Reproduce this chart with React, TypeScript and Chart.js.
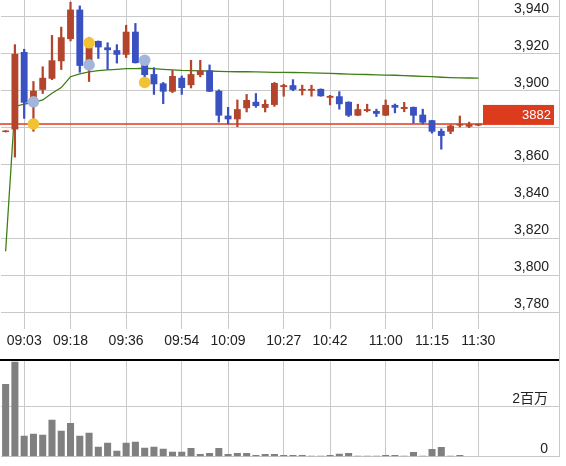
import React, { useEffect, useRef } from 'react';
import { Chart, registerables } from 'chart.js';

Chart.register(...registerables);

const TIMES = [
  '08:57', '09:00', '09:03', '09:06', '09:09', '09:12', '09:15', '09:18', '09:21', '09:24',
  '09:27', '09:30', '09:33', '09:36', '09:39', '09:42', '09:45', '09:48', '09:51', '09:54',
  '09:57', '10:00', '10:03', '10:06', '10:09', '10:12', '10:15', '10:18', '10:21', '10:24',
  '10:27', '10:30', '10:33', '10:36', '10:39', '10:42', '10:45', '10:48', '10:51', '10:54',
  '10:57', '11:00', '11:03', '11:06', '11:09', '11:12', '11:15', '11:18', '11:21', '11:24',
  '11:27', '11:30',
];

const X_TICK_LABELS = ['09:03', '09:18', '09:36', '09:54', '10:09', '10:27', '10:42', '11:00', '11:15', '11:30'];

const OPEN = [
  3877.6, 3879, 3921, 3896, 3900.5, 3906.5, 3916, 3928, 3944, 3914,
  3927, 3923.5, 3922, 3919.5, 3932, 3915, 3909, 3904, 3899.5, 3907,
  3903, 3908.5, 3911, 3900, 3886.5, 3884.5, 3890.5, 3894, 3890.7, 3892.3,
  3902, 3903, 3900, 3900, 3901, 3896.2, 3897, 3894, 3886.5, 3889,
  3889, 3886.5, 3892.3, 3890.1, 3891.2, 3887, 3884, 3878.2, 3877.8, 3881.1,
  3880.5, 3881.1,
];
const CLOSE = [
  3878.4, 3920, 3893.5, 3900, 3907, 3916.5, 3929, 3944, 3913.5, 3924,
  3923.5, 3922, 3919.5, 3932, 3915, 3908.5, 3903.5, 3899.5, 3908, 3901.5,
  3909, 3911, 3899.5, 3886.5, 3884.5, 3890, 3895, 3891.7, 3892.8, 3904.2,
  3903, 3900.5, 3901, 3901, 3897, 3897.2, 3892.7, 3886.5, 3890, 3890,
  3887.5, 3892.3, 3890.8, 3891.2, 3886.5, 3882.7, 3877.8, 3875.5, 3881.1, 3881.8,
  3881.8, 3882,
];
const HIGH = [
  3878.4, 3925, 3922.5, 3905, 3913, 3930, 3934.5, 3948, 3946, 3929,
  3927, 3926, 3925, 3935.5, 3936.5, 3917, 3912.5, 3904.5, 3911, 3908,
  3916.5, 3916.5, 3914, 3900.5, 3891, 3895, 3898, 3898.5, 3895, 3904.5,
  3903.5, 3906, 3903, 3903, 3901, 3897.5, 3899.5, 3894, 3892.7, 3892.7,
  3890, 3895, 3892.8, 3893.7, 3891.2, 3890, 3884, 3879.3, 3881.5, 3886.3,
  3883, 3882,
];
const LOW = [
  3877.6, 3864, 3885, 3878, 3898.5, 3906, 3911.5, 3927, 3910, 3905,
  3917.5, 3911.5, 3915, 3918, 3915, 3907, 3898, 3893, 3899, 3898,
  3901.5, 3907.5, 3899.5, 3883, 3882, 3880.5, 3888.5, 3891, 3888.5, 3891.5,
  3897, 3900, 3897.7, 3897, 3897, 3892.3, 3890, 3886, 3886.5, 3888.5,
  3886, 3886.5, 3888, 3888.6, 3882.4, 3882, 3877, 3868.3, 3876.7, 3880.3,
  3880, 3881,
];
const AVG_LINE = [
  3813, 3891.5, 3892.7, 3893.5, 3895, 3898.6, 3901.7, 3907.6, 3909.1, 3910.2,
  3910.9, 3911.3, 3911.6, 3912, 3912, 3912.2, 3912, 3911.6, 3911.3, 3911,
  3910.9, 3910.8, 3910.7, 3910.5, 3910.4, 3910.3, 3910.3, 3910.2, 3910.1, 3910,
  3910, 3909.9, 3909.8, 3909.7, 3909.5, 3909.4, 3909.2, 3909, 3908.9, 3908.8,
  3908.6, 3908.5, 3908.4, 3908.2, 3908, 3907.8, 3907.6, 3907.3, 3907.1, 3907,
  3906.9, 3906.8,
];
const VOLUME = [
  2910000, 3800000, 840000, 920000, 880000, 1480000, 1040000, 1350000, 840000, 960000,
  400000, 560000, 240000, 560000, 600000, 360000, 400000, 320000, 200000, 200000,
  350000, 110000, 150000, 350000, 110000, 150000, 150000, 70000, 110000, 110000,
  70000, 70000, 70000, 40000, 40000, 70000, 120000, 150000, 40000, 40000,
  40000, 70000, 70000, 40000, 190000, 40000, 310000, 390000, 40000, 70000,
  0, 0,
];

const YELLOW_TIMES = ['09:06', '09:24', '09:42'];
const YELLOW_VALUES = [3882, 3926, 3904.5];
const BLUE_TIMES = ['09:06', '09:24', '09:42'];
const BLUE_VALUES = [3894, 3914, 3916.5];

const PRICE_TICKS = [3780, 3800, 3820, 3840, 3860, 3880, 3900, 3920, 3940];
const VOLUME_TICKS = [0, 2000000];
const VOLUME_TICK_LABELS = ['0', '2百万'];
const LAST_PRICE = 3882;

const UP = '#b4452d';
const DOWN = '#3a51c2';
const GRID = '#c9c9c9';
const FONT = "'Liberation Sans', Arial, 'Noto Sans CJK JP', sans-serif";

const xTickIdx = X_TICK_LABELS.map((t) => TIMES.indexOf(t));

function markerData(times: string[], values: number[]) {
  return TIMES.map((t) => {
    const k = times.indexOf(t);
    return k >= 0 ? values[k] : null;
  });
}

const pricePlugin = {
  id: 'priceLine',
  beforeDatasetsDraw(chart: any) {
    const { ctx, chartArea } = chart;
    const y = chart.scales.y.getPixelForValue(LAST_PRICE);
    ctx.save();
    ctx.strokeStyle = '#e0391c';
    ctx.lineWidth = 1.6;
    ctx.beginPath();
    ctx.moveTo(0, y);
    ctx.lineTo(chartArea.right, y);
    ctx.stroke();
    ctx.restore();
  },
  afterDraw(chart: any) {
    const { ctx, chartArea } = chart;
    const y = chart.scales.y.getPixelForValue(LAST_PRICE);
    ctx.save();
    ctx.fillStyle = '#dc3b1d';
    ctx.fillRect(chartArea.right, y - 19, 71, 20);
    ctx.fillStyle = '#ffffff';
    ctx.font = `13px ${FONT}`;
    ctx.textAlign = 'right';
    ctx.textBaseline = 'middle';
    ctx.fillText(String(LAST_PRICE), chartArea.right + 68, y - 8.5);
    ctx.restore();
  },
};

function xAxis(showLabels: boolean, height: number) {
  return {
    type: 'category' as const,
    offset: true,
    afterBuildTicks: (s: any) => {
      s.ticks = xTickIdx.map((v) => ({ value: v }));
    },
    afterFit: (s: any) => {
      s.height = height;
      s.paddingLeft = 0;
      s.paddingRight = 0;
    },
    grid: { offset: false, color: GRID, drawTicks: false, lineWidth: 1 },
    border: { display: false },
    ticks: {
      display: showLabels,
      autoSkip: false,
      maxRotation: 0,
      padding: 4,
      color: '#222',
      font: { family: FONT, size: 14 },
      callback: (v: any) => TIMES[v],
    },
  };
}

function yAxisBase(width: number) {
  return {
    type: 'linear' as const,
    position: 'right' as const,
    afterFit: (s: any) => {
      s.width = width;
      s.paddingTop = 0;
      s.paddingBottom = 0;
    },
    grid: { color: GRID, drawTicks: true, tickLength: 76, lineWidth: 1 },
    border: { display: false },
  };
}

function PriceChart() {
  const ref = useRef<HTMLCanvasElement>(null);
  useEffect(() => {
    if (!ref.current) return;
    const chart = new Chart(ref.current, {
      type: 'bar',
      data: {
        labels: TIMES,
        datasets: [
          {
            type: 'line',
            data: markerData(YELLOW_TIMES, YELLOW_VALUES),
            showLine: false,
            pointRadius: 5.8,
            pointBackgroundColor: '#f3c232',
            pointBorderWidth: 0,
            order: 0,
          } as any,
          {
            type: 'line',
            data: markerData(BLUE_TIMES, BLUE_VALUES),
            showLine: false,
            pointRadius: 5.8,
            pointBackgroundColor: '#a2b5da',
            pointBorderWidth: 0,
            order: 0,
          } as any,
          {
            type: 'bar',
            data: OPEN.map((o, i) => [o, CLOSE[i]]),
            backgroundColor: OPEN.map((o, i) => (CLOSE[i] >= o ? UP : DOWN)),
            grouped: false,
            categoryPercentage: 1,
            barPercentage: 0.74,
            minBarLength: 1.5,
            order: 1,
          } as any,
          {
            type: 'bar',
            data: LOW.map((l, i) => [l, HIGH[i]]),
            backgroundColor: OPEN.map((o, i) => (CLOSE[i] >= o ? UP : DOWN)),
            grouped: false,
            barThickness: 1.6,
            order: 2,
          } as any,
          {
            type: 'line',
            data: AVG_LINE,
            borderColor: '#3f7f16',
            borderWidth: 1.3,
            pointRadius: 0,
            tension: 0,
            order: 3,
          } as any,
        ],
      },
      options: {
        responsive: false,
        animation: false,
        layout: { autoPadding: false, padding: { left: 1, right: 17, top: 0, bottom: 0 } },
        plugins: { legend: { display: false }, tooltip: { enabled: false } },
        scales: {
          x: xAxis(true, 30),
          y: {
            ...yAxisBase(66),
            min: 3770.8,
            max: 3949.2,
            afterBuildTicks: (s: any) => {
              s.ticks = PRICE_TICKS.map((v) => ({ value: v }));
            },
            ticks: {
              crossAlign: 'far',
              padding: 0,
              labelOffset: -8,
              color: '#222',
              font: { family: FONT, size: 14 },
              callback: (v: any) => Number(v).toLocaleString('en-US'),
            },
          },
        },
      },
      plugins: [pricePlugin],
    } as any);
    return () => chart.destroy();
  }, []);
  return (
    <canvas
      ref={ref}
      width={566}
      height={359}
      style={{ position: 'absolute', left: 0, top: 0, width: 566, height: 359 }}
    />
  );
}

function VolumeChart() {
  const ref = useRef<HTMLCanvasElement>(null);
  useEffect(() => {
    if (!ref.current) return;
    const chart = new Chart(ref.current, {
      type: 'bar',
      data: {
        labels: TIMES,
        datasets: [
          {
            data: VOLUME,
            backgroundColor: '#808080',
            categoryPercentage: 1,
            barPercentage: 0.76,
          },
        ],
      },
      options: {
        responsive: false,
        animation: false,
        layout: { autoPadding: false, padding: { left: 1, right: 18, top: 0, bottom: 9.3 } },
        plugins: { legend: { display: false }, tooltip: { enabled: false } },
        scales: {
          x: xAxis(false, 0),
          y: {
            ...yAxisBase(65),
            min: 0,
            max: 3828000,
            afterBuildTicks: (s: any) => {
              s.ticks = VOLUME_TICKS.map((v) => ({ value: v }));
            },
            ticks: {
              crossAlign: 'far',
              padding: 0,
              labelOffset: -8,
              color: '#222',
              font: { family: FONT, size: 14 },
              callback: (v: any) => VOLUME_TICK_LABELS[VOLUME_TICKS.indexOf(Number(v))],
            },
          },
        },
      },
    } as any);
    return () => chart.destroy();
  }, []);
  return (
    <canvas
      ref={ref}
      width={566}
      height={105}
      style={{ position: 'absolute', left: 0, top: 361, width: 566, height: 105 }}
    />
  );
}

export default function App() {
  return (
    <div
      style={{
        position: 'fixed',
        left: 0,
        top: 0,
        width: 566,
        height: 466,
        background: '#ffffff',
        overflow: 'hidden',
      }}
    >
      <div
        style={{
          position: 'absolute',
          left: 0,
          top: 0,
          width: 559,
          height: 457,
          borderRight: `1px solid ${GRID}`,
        }}
      />
      <PriceChart />
      <div style={{ position: 'absolute', left: 0, top: 359, width: 559, height: 2, background: '#000' }} />
      <VolumeChart />
    </div>
  );
}
